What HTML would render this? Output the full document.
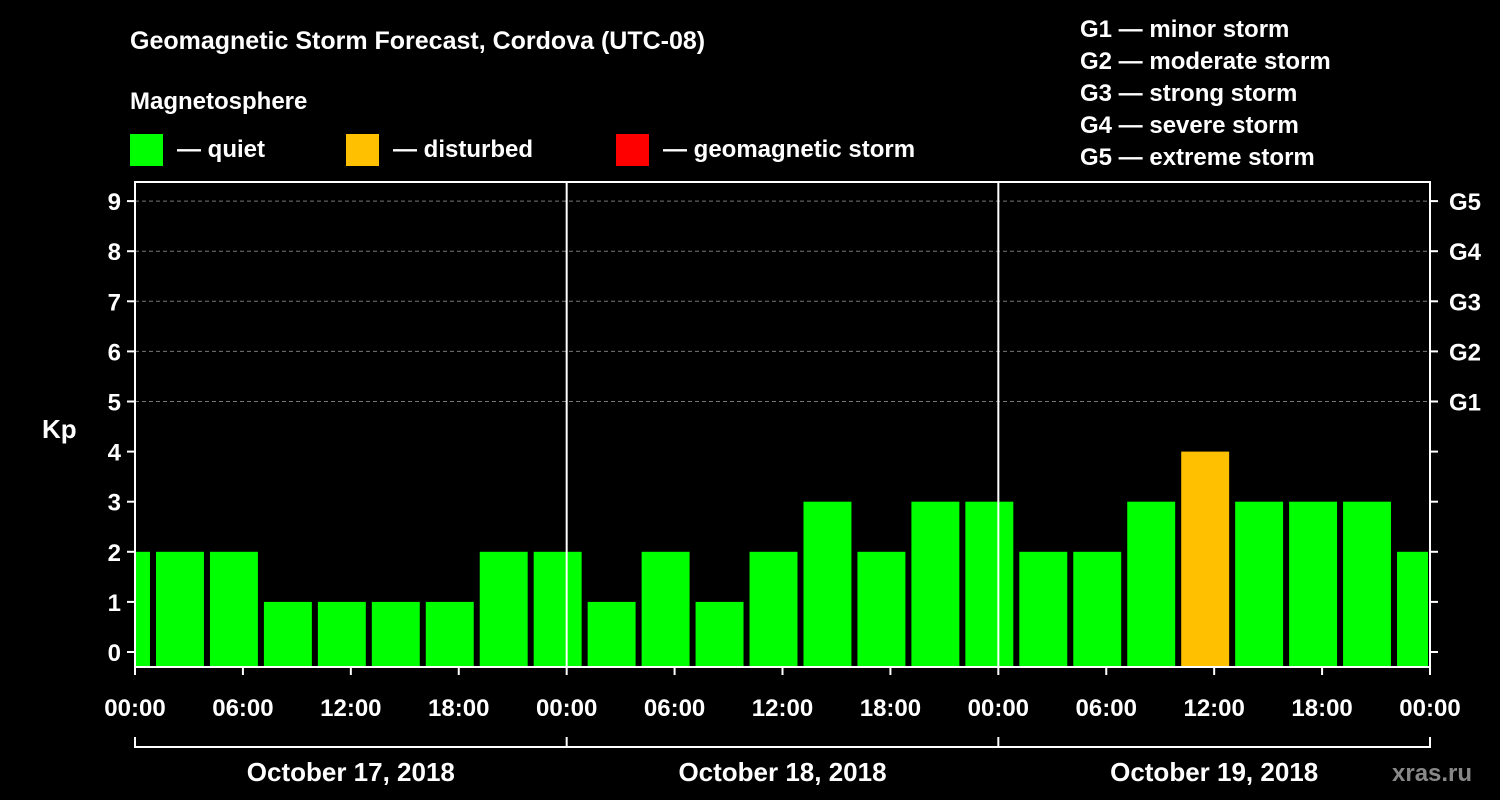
<!DOCTYPE html>
<html><head><meta charset="utf-8"><style>
body{margin:0;background:#000;}
svg{display:block;font-family:"Liberation Sans",Arial,sans-serif;font-weight:bold;}
</style></head><body>
<svg id="chart" width="1500" height="800" viewBox="0 0 1500 800">
<rect width="1500" height="800" fill="#000"/>
<text x="130" y="49" fill="#fff" font-size="25">Geomagnetic Storm Forecast, Cordova (UTC-08)</text>
<text x="130" y="109" fill="#fff" font-size="24">Magnetosphere</text>
<g>
<rect x="130" y="134" width="33" height="32" fill="#00ff00"/>
<text x="177" y="157" fill="#fff" font-size="24">— quiet</text>
<rect x="346" y="134" width="33" height="32" fill="#ffc000"/>
<text x="393" y="157" fill="#fff" font-size="24">— disturbed</text>
<rect x="616" y="134" width="33" height="32" fill="#ff0000"/>
<text x="663" y="157" fill="#fff" font-size="24">— geomagnetic storm</text>
</g>
<g fill="#fff" font-size="24">
<text x="1080" y="37">G1 — minor storm</text>
<text x="1080" y="69">G2 — moderate storm</text>
<text x="1080" y="101">G3 — strong storm</text>
<text x="1080" y="133">G4 — severe storm</text>
<text x="1080" y="165">G5 — extreme storm</text>
</g>
<text x="42" y="438" fill="#fff" font-size="26">Kp</text>
<text x="1392" y="781" fill="#888" font-size="24">xras.ru</text>
<g id="plot"></g>
</svg>
<script>
const values = [2, 2,2,1,1,1,1,2,2, 1,2,1,2,3,2,3,3, 2,2,3,4,3,3,3,2];
const yTicks = [0,1,2,3,4,5,6,7,8,9];
const gLabels = ["G1","G2","G3","G4","G5"];
const xTickLabels = ["00:00","06:00","12:00","18:00","00:00","06:00","12:00","18:00","00:00","06:00","12:00","18:00","00:00"];
const dayLabels = ["October 17, 2018","October 18, 2018","October 19, 2018"];

const NS="http://www.w3.org/2000/svg";
const L=135,R=1430,T=182,B=667;
const hourW=(R-L)/72;
const x=h=>L+h*hourW;
const y=v=>652-v*50.1;
const g=document.getElementById('plot');
function el(t,a,p){const e=document.createElementNS(NS,t);for(const k in a)e.setAttribute(k,a[k]);(p||g).appendChild(e);return e;}
// grid
for(let v=5;v<=9;v++){
 const ln=el('line',{x1:L,x2:R,y1:y(v),y2:y(v),stroke:'#777','stroke-dasharray':'4,3','stroke-width':1});
 
 
}
// bars
values.forEach((v,i)=>{
 const c=-0.5+3*i;
 let x0=x(c-1.333),x1=x(c+1.333);
 x0=Math.max(x0,L);x1=Math.min(x1,R-2);
 const col=v>=5?'#ff0000':(v>=4?'#ffc000':'#00ff00');
 const r=el('rect',{x:x0,y:y(v),width:x1-x0,height:B-y(v),fill:col});
 
 
});
// day separators
for(let d=1;d<=2;d++){el('line',{x1:x(24*d),x2:x(24*d),y1:T,y2:B,stroke:'#fff','stroke-width':2});}
// axes frame
const fr=el('rect',{x:L,y:T,width:R-L,height:B-T,fill:'none',stroke:'#fff','stroke-width':2});


yTicks.forEach(v=>{
 el('line',{x1:L-8,x2:L,y1:y(v),y2:y(v),stroke:'#fff','stroke-width':2});
 el('line',{x1:R,x2:R+8,y1:y(v),y2:y(v),stroke:'#fff','stroke-width':2});
 const t=el('text',{x:L-14,y:y(v)+9,fill:'#fff','font-size':24,'text-anchor':'end'});
 t.textContent=v;
 
 
});
gLabels.forEach((s,i)=>{
 const t=el('text',{x:R+19,y:y(5+i)+9,fill:'#fff','font-size':24});
 t.textContent=s;
 
 
});
xTickLabels.forEach((s,i)=>{
 el('line',{x1:x(6*i),x2:x(6*i),y1:B,y2:B+8,stroke:'#fff','stroke-width':2});
 const t=el('text',{x:x(6*i),y:716,fill:'#fff','font-size':24,'text-anchor':'middle'});
 t.textContent=s;
 
 
});
el('line',{x1:L,x2:R,y1:747,y2:747,stroke:'#fff','stroke-width':2});
for(let d=0;d<=3;d++)el('line',{x1:x(24*d),x2:x(24*d),y1:737,y2:748,stroke:'#fff','stroke-width':2});
dayLabels.forEach((s,i)=>{
 const t=el('text',{x:x(24*i+12),y:781,fill:'#fff','font-size':26,'text-anchor':'middle'});
 t.textContent=s;
 
 
});
</script>
</body></html>
